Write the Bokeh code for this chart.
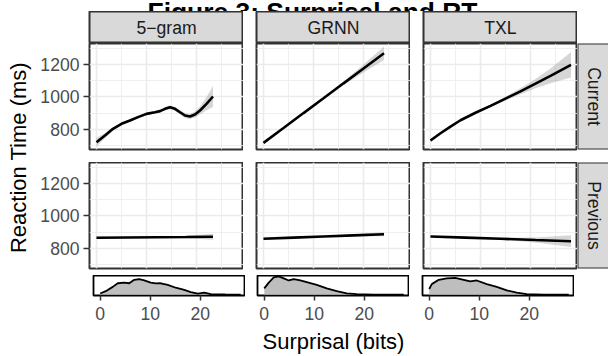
import math
from bokeh.plotting import figure
from bokeh.layouts import column, row
from bokeh.models import Range1d, FixedTicker
from bokeh.embed import file_html
from bokeh.resources import INLINE
from bokeh.core.properties import value

FONT = "Liberation Sans"

# ---------------- data ----------------
title_text = "Figure 3: Surprisal and RT"
y_title = "Reaction Time (ms)"
x_title = "Surprisal (bits)"
model_labels = ["5\u2212gram", "GRNN", "TXL"]
row_labels = ["Current", "Previous"]
y_ticks = [800, 1000, 1200]
y_minor = [700, 900, 1100, 1300]
x_ticks = [0, 10, 20]
x_minor = [5, 15, 25]

# Current-word surprisal effect (smooth fit and half-width of its band)
cur_ngram_x = [0, 1.7, 3.3, 5, 6.7, 8.3, 10, 11.7, 12.7, 13.7, 14.7, 15.7, 16.7, 17.7, 18.7, 19.7, 20.7, 22, 23.3]
cur_ngram_y = [722, 763, 804, 835, 855, 876, 896, 906, 913, 927, 937, 927, 906, 886, 880, 892, 917, 958, 1003]
cur_ngram_se = [28, 15, 10, 8, 8, 8, 8, 8, 9, 10, 12, 12, 14, 15, 16, 18, 25, 40, 65]

cur_grnn_x = [0, 4, 8, 12, 16, 20, 24.1]
cur_grnn_y = [718, 809, 901, 992, 1084, 1175, 1269]
cur_grnn_se = [8, 5, 5, 6, 12, 25, 42]

cur_txl_x = [0, 2, 4, 6, 9, 12, 15, 18, 21, 24, 28.1]
cur_txl_y = [732, 777, 818, 857, 903, 945, 990, 1035, 1082, 1130, 1198]
cur_txl_se = [10, 7, 6, 6, 6, 8, 12, 18, 28, 45, 78]

# Previous-word surprisal effect
prev_ngram_x = [0, 6, 12, 18, 23.3]
prev_ngram_y = [866, 867.5, 869, 870.5, 872]
prev_ngram_se = [7, 4, 4, 8, 18]

prev_grnn_x = [0, 6, 12, 18, 24.1]
prev_grnn_y = [860, 867, 874, 881, 888]
prev_grnn_se = [6, 3, 3, 6, 12]

prev_txl_x = [0, 7, 14, 21, 28.1]
prev_txl_y = [874, 867, 860, 852, 845]
prev_txl_se = [6, 4, 6, 15, 36]

# Surprisal densities
dens_ngram_x = [0, 1.1, 2.5, 3.5, 4.8, 5.8, 6.8, 7.8, 8.8, 10.1, 11.1, 12.1, 13.5, 15.1, 16.8, 18.1, 19.5, 20.8, 22.1, 23.1, 25, 28.1]
dens_ngram_d = [0.005, 0.016, 0.036, 0.053, 0.056, 0.053, 0.069, 0.072, 0.066, 0.056, 0.052, 0.053, 0.045, 0.032, 0.022, 0.012, 0.005, 0.009, 0.002, 0.001, 0.0005, 0]

dens_grnn_x = [0, 0.9, 1.9, 2.9, 3.9, 4.9, 5.9, 7.2, 8.5, 10.5, 12.5, 14.5, 16.5, 18.5, 21.9, 27.9]
dens_grnn_d = [0.029, 0.056, 0.080, 0.085, 0.076, 0.066, 0.072, 0.066, 0.058, 0.045, 0.029, 0.016, 0.006, 0.002, 0.0003, 0]

dens_txl_x = [0, 0.5, 1.9, 3.5, 5.2, 6.9, 8.2, 9.5, 11.5, 13.5, 15.5, 17.5, 19.5, 22.9, 27.9]
dens_txl_d = [0.026, 0.049, 0.069, 0.076, 0.078, 0.069, 0.062, 0.066, 0.049, 0.036, 0.020, 0.009, 0.002, 0.0003, 0]

# ---------------- layout constants (pixels) ----------------
STRIP_TOP = 11
LEFT_W = 34
PANEL_W = 154
PANEL_H = 106
GAP_X = 13
C1_LEFT = 89 - LEFT_W
DENS_W = 152
DENS_LEFTS = [93 - LEFT_W, 257 - 245, 422 - 409]
BLACK = "#000000"
BORDER = "#333333"
GRID = "#EBEBEB"
STRIP_FILL = "#D9D9D9"
TICK_TXT = "#4D4D4D"
FS_TICK = "17.6px"
FS_TITLE = "22px"

cur_sets = [(cur_ngram_x, cur_ngram_y, cur_ngram_se),
            (cur_grnn_x, cur_grnn_y, cur_grnn_se),
            (cur_txl_x, cur_txl_y, cur_txl_se)]
prev_sets = [(prev_ngram_x, prev_ngram_y, prev_ngram_se),
             (prev_grnn_x, prev_grnn_y, prev_grnn_se),
             (prev_txl_x, prev_txl_y, prev_txl_se)]
dens_sets = [(dens_ngram_x, dens_ngram_d), (dens_grnn_x, dens_grnn_d), (dens_txl_x, dens_txl_d)]

X_RANGE = (-1.4, 29.4)
Y_RANGE = (677, 1329)
DMAX = max(max(d) for _, d in dens_sets)


def base_fig(w, h, xr, yr, left=0, right=0, top=0, bottom=0, xloc=None, yloc=None):
    p = figure(width=w, height=h, x_range=Range1d(*xr), y_range=Range1d(*yr),
               output_backend="svg", toolbar_location=None,
               x_axis_location=xloc, y_axis_location=yloc,
               min_border_left=left, min_border_right=right,
               min_border_top=top, min_border_bottom=bottom,
               outline_line_color=None, background_fill_color="white",
               border_fill_color="white")
    for g in p.grid:
        g.visible = False
    return p


def style_axis(ax):
    ax.axis_line_color = None
    ax.major_tick_line_color = BORDER
    ax.major_tick_line_width = 1.5
    ax.major_tick_in = 0
    ax.major_tick_out = 6
    ax.minor_tick_line_color = None
    ax.major_label_text_font = FONT
    ax.major_label_text_font_size = FS_TICK
    ax.major_label_text_color = TICK_TXT


# title strip (top band; the title is partly cut at the top)
title_fig = base_fig(608, STRIP_TOP, (0, 608), (STRIP_TOP, 0))
title_fig.text(x=[312], y=[10], text=[title_text], text_font=value(FONT),
               text_font_size=value("26.4px"), text_font_style="bold",
               text_align="center", text_baseline="alphabetic", text_color=BLACK)

# left y-title
left_fig = base_fig(LEFT_W, 356 - STRIP_TOP, (0, LEFT_W), (356, STRIP_TOP))
left_fig.text(x=[18], y=[157], text=[y_title], text_font=value(FONT),
              text_font_size=value(FS_TITLE), angle=math.pi / 2,
              text_align="center", text_baseline="middle", text_color=BLACK)

# column strips
strip_figs = []
for ci, lab in enumerate(model_labels):
    lft = C1_LEFT if ci == 0 else GAP_X
    s = base_fig(lft + PANEL_W, 43 - STRIP_TOP, (0, 1), (0, 1), left=lft)
    s.background_fill_color = STRIP_FILL
    s.outline_line_color = BORDER
    s.outline_line_width = 2
    s.text(x=[0.5], y=[0.5], text=[lab], text_font=value(FONT), text_font_size=value(FS_TICK),
           text_align="center", text_baseline="middle", text_color="#1A1A1A")
    strip_figs.append(s)


def panel(ci, data, gap):
    lft = C1_LEFT if ci == 0 else GAP_X
    p = figure(width=lft + PANEL_W, height=PANEL_H + gap,
               x_range=Range1d(*X_RANGE), y_range=Range1d(*Y_RANGE),
               output_backend="svg", toolbar_location=None,
               x_axis_location=None, y_axis_location="left" if ci == 0 else None,
               min_border_left=lft, min_border_right=0, min_border_top=0, min_border_bottom=gap,
               outline_line_color=BORDER, outline_line_width=2,
               background_fill_color="white", border_fill_color="white")
    for g in p.grid:
        g.visible = True
        g.grid_line_color = GRID
        g.grid_line_width = 1.6
        g.minor_grid_line_color = GRID
        g.minor_grid_line_width = 0.8
    p.xgrid.ticker = FixedTicker(ticks=x_ticks, minor_ticks=x_minor)
    p.ygrid.ticker = FixedTicker(ticks=y_ticks, minor_ticks=y_minor)
    if ci == 0:
        p.yaxis.ticker = FixedTicker(ticks=y_ticks)
        style_axis(p.yaxis[0])
        p.yaxis.major_label_standoff = 4
    xs, ys, se = data
    lo = [y - s for y, s in zip(ys, se)]
    hi = [y + s for y, s in zip(ys, se)]
    p.varea(x=xs, y1=lo, y2=hi, fill_color="#999999", fill_alpha=0.4)
    p.line(x=xs, y=ys, line_color=BLACK, line_width=2.6)
    return p


def row_strip(lab, gap):
    s = base_fig(608 - 577, PANEL_H + gap, (0, 31), (0, PANEL_H), bottom=gap)
    s.quad(left=[0], right=[60], bottom=[0], top=[PANEL_H], fill_color=STRIP_FILL,
           line_color=BORDER, line_width=2)
    s.text(x=[16.5], y=[PANEL_H / 2], text=[lab], text_font=value(FONT), text_font_size=value(FS_TICK),
           angle=-math.pi / 2, text_align="center", text_baseline="middle", text_color="#1A1A1A")
    return s


row1 = row(*[panel(ci, cur_sets[ci], 13) for ci in range(3)], row_strip(row_labels[0], 13))
row2 = row(*[panel(ci, prev_sets[ci], 7) for ci in range(3)], row_strip(row_labels[1], 7))

dens_figs = []
for ci, (dx, dd) in enumerate(dens_sets):
    lft = DENS_LEFTS[ci]
    p = figure(width=lft + DENS_W, height=24 + 57,
               x_range=Range1d(-1.35, 29.05), y_range=Range1d(-0.05 * DMAX, 1.05 * DMAX),
               output_backend="svg", toolbar_location=None,
               x_axis_location="below", y_axis_location=None,
               min_border_left=lft, min_border_right=0, min_border_top=0, min_border_bottom=57,
               outline_line_color=BLACK, outline_line_width=1.8,
               background_fill_color="white", border_fill_color="white")
    for g in p.grid:
        g.visible = False
    p.xaxis.ticker = FixedTicker(ticks=x_ticks)
    style_axis(p.xaxis[0])
    p.xaxis.major_tick_out = 5
    p.xaxis.major_label_standoff = 6
    if ci == 1:
        p.xaxis.axis_label = x_title
        p.xaxis.axis_label_text_font = FONT
        p.xaxis.axis_label_text_font_size = FS_TITLE
        p.xaxis.axis_label_text_font_style = "normal"
        p.xaxis.axis_label_text_color = BLACK
        p.xaxis.axis_label_standoff = 6
    p.varea(x=dx, y1=[0] * len(dx), y2=dd, fill_color="#BEBEBE")
    p.line(x=dx, y=dd, line_color=BLACK, line_width=1.8)
    dens_figs.append(p)

main = column(row(*strip_figs), row1, row2, row(*dens_figs))
root = column(title_fig, row(left_fig, main))
root.margin = (0, 0, 0, 0)

open("out.html", "w").write(file_html(root, INLINE))
